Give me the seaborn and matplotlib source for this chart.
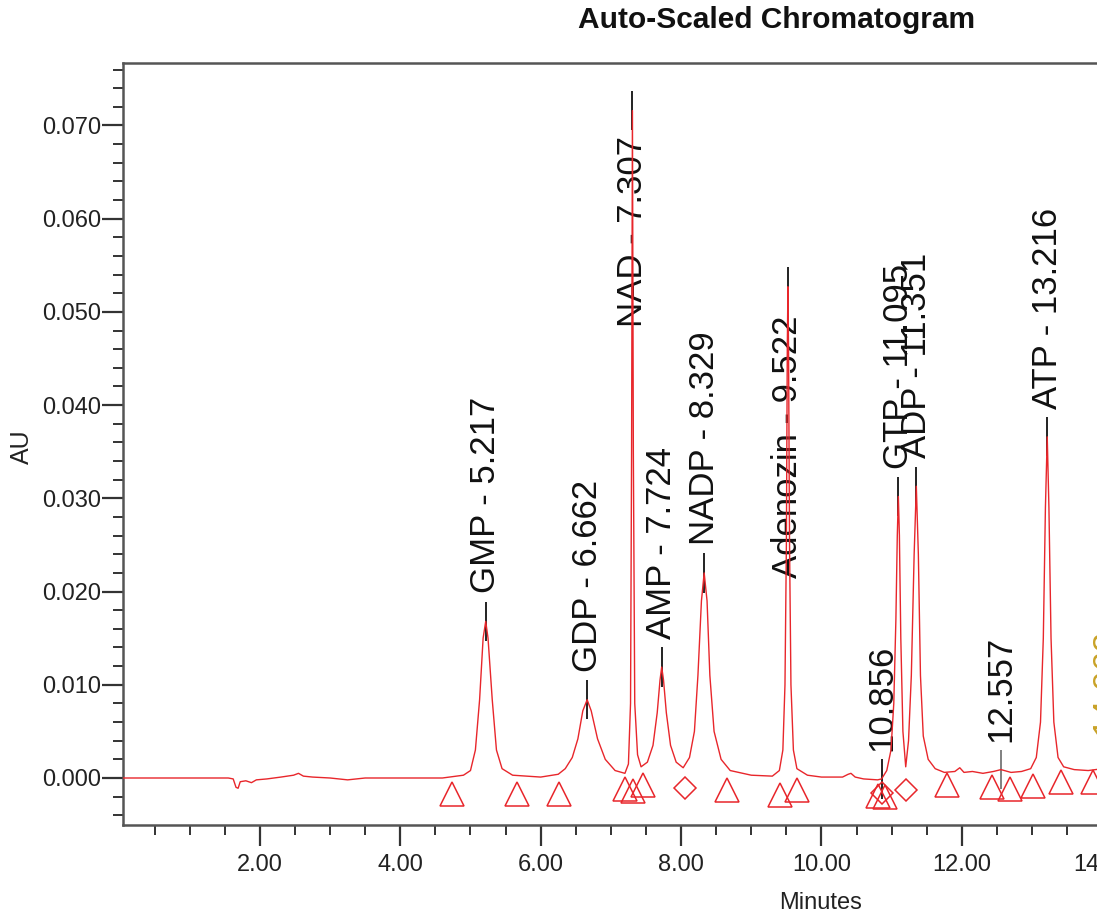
import matplotlib
matplotlib.use("Agg")
import matplotlib.pyplot as plt
from matplotlib import font_manager
from matplotlib.patches import Rectangle
from matplotlib.ticker import MultipleLocator, FormatStrFormatter
import seaborn as sns
import pandas as pd

# detector trace (minutes, AU)
trace_time = [0.05, 0.80, 1.55, 1.62, 1.66, 1.69, 1.72, 1.80, 1.88, 1.95, 2.10, 2.30, 2.48, 2.55, 2.62,
              2.75, 3.00, 3.25, 3.50, 4.00, 4.60, 4.90, 5.00, 5.07, 5.13, 5.18, 5.217, 5.25, 5.31,
              5.37, 5.45, 5.60, 6.00, 6.25, 6.35, 6.45, 6.53, 6.60, 6.662, 6.72, 6.81, 6.92, 7.06,
              7.20, 7.25, 7.28, 7.295, 7.307, 7.32, 7.34, 7.38, 7.43, 7.52, 7.60, 7.66, 7.70, 7.724,
              7.75, 7.79, 7.85, 7.93, 8.03, 8.12, 8.19, 8.24, 8.29, 8.329, 8.37, 8.41, 8.47, 8.57,
              8.70, 9.00, 9.30, 9.40, 9.45, 9.48, 9.50, 9.513, 9.522, 9.531, 9.545, 9.565, 9.60,
              9.65, 9.80, 10.00, 10.30, 10.38, 10.42, 10.48, 10.60, 10.80, 10.856, 10.93, 10.99,
              11.03, 11.06, 11.08, 11.095, 11.11, 11.13, 11.16, 11.20, 11.24, 11.28, 11.32, 11.351,
              11.38, 11.41, 11.45, 11.52, 11.62, 11.75, 11.90, 11.97, 12.03, 12.15, 12.30, 12.45,
              12.557, 12.70, 12.85, 12.98, 13.06, 13.12, 13.16, 13.19, 13.216, 13.24, 13.27, 13.31,
              13.37, 13.45, 13.60, 13.80, 14.11]
trace_au = [0.0000, 0.0000, 0.0000, -0.0001, -0.0010, -0.0011, -0.0004, -0.0003, -0.0005, -0.0002,
            -0.0001, 0.0001, 0.0003, 0.0005, 0.0002, 0.0001, 0.0000, -0.0002, 0.0000, 0.0000,
            0.0000, 0.0003, 0.0008, 0.0030, 0.0084, 0.0150, 0.0168, 0.0150, 0.0084, 0.0030,
            0.0010, 0.0003, 0.0001, 0.0004, 0.0010, 0.0022, 0.0042, 0.0072, 0.0084, 0.0072,
            0.0042, 0.0020, 0.0008, 0.0005, 0.0015, 0.0080, 0.0350, 0.0716, 0.0350, 0.0080,
            0.0025, 0.0012, 0.0017, 0.0035, 0.0070, 0.0105, 0.0119, 0.0105, 0.0070, 0.0035,
            0.0017, 0.0011, 0.0022, 0.0050, 0.0110, 0.0190, 0.0220, 0.0190, 0.0110, 0.0050,
            0.0020, 0.0008, 0.0003, 0.0002, 0.0008, 0.0030, 0.0100, 0.0250, 0.0460, 0.0527,
            0.0460, 0.0250, 0.0100, 0.0030, 0.0010, 0.0003, 0.0001, 0.0001, 0.0004, 0.0005,
            0.0001, -0.0001, -0.0002, -0.0001, 0.0008, 0.0030, 0.0080, 0.0170, 0.0260, 0.0302,
            0.0260, 0.0150, 0.0050, 0.0012, 0.0040, 0.0110, 0.0240, 0.0313, 0.0240, 0.0110,
            0.0045, 0.0020, 0.0010, 0.0006, 0.0007, 0.0011, 0.0006, 0.0007, 0.0005, 0.0007,
            0.0009, 0.0006, 0.0007, 0.0010, 0.0022, 0.0060, 0.0150, 0.0290, 0.0366, 0.0290,
            0.0150, 0.0060, 0.0022, 0.0012, 0.0009, 0.0008, 0.0011]

# labelled peaks
peak_names = ["GMP - 5.217", "GDP - 6.662", "NAD - 7.307", "AMP - 7.724", "NADP - 8.329",
              "Adenozin - 9.522", "10.856", "GTP - 11.095", "ADP - 11.351", "12.557", "ATP - 13.216"]
peak_time = [5.217, 6.662, 7.307, 7.724, 8.329, 9.522, 10.856, 11.095, 11.351, 12.557, 13.216]
peak_au = [0.0168, 0.0084, 0.0716, 0.0119, 0.0220, 0.0527, -0.0001, 0.0302, 0.0313, 0.0009, 0.0366]

# partly hidden label at the right edge
edge_name = "14.062"
edge_time = 14.05

# integration start/stop marks
tri_time = [4.73, 5.66, 6.26, 7.20, 7.31, 7.46, 8.65, 9.41, 9.65, 10.80, 10.90, 11.79, 12.43,
            12.68, 13.01, 13.41, 13.87]
tri_au = [-0.0017, -0.0017, -0.0017, -0.0012, -0.0014, -0.0008, -0.0013, -0.0018, -0.0013,
          -0.0019, -0.0020, -0.0008, -0.0010, -0.0012, -0.0009, -0.0004, -0.0004]
dia_time = [8.05, 10.86, 11.21]
dia_au = [-0.0011, -0.0016, -0.0013]

trace = pd.DataFrame({"Minutes": trace_time, "AU": trace_au})

sns.set_theme(style="ticks")
names = {f.name for f in font_manager.fontManager.ttflist}
if "Liberation Sans Narrow" in names:
    flat_font = ["Liberation Sans Narrow", "DejaVu Sans"]
    tick_size, title_size, xlab_size = 20, 26, 20
else:
    flat_font = ["Liberation Sans", "DejaVu Sans"]
    tick_size, title_size, xlab_size = 17, 21.5, 17
plt.rcParams["font.family"] = flat_font

fig = plt.figure(figsize=(11.1, 9.23), dpi=100)
ax = fig.add_axes([0.1108, 0.1062, 0.8892, 0.8255])

red = "#e8262b"
sns.lineplot(data=trace, x="Minutes", y="AU", sort=False, estimator=None,
             color=red, lw=1.0, ax=ax, zorder=3)

ax.plot(tri_time, tri_au, ls="none", marker="^", ms=17, mfc="none", mec=red, mew=1.1, zorder=4)
ax.plot(dia_time, dia_au, ls="none", marker="D", ms=11.5, mfc="none", mec=red, mew=1.1, zorder=4)

# peak labels: small tick through the apex, text above it
moved = {"NAD - 7.307": 0.0484, "Adenozin - 9.522": 0.0215}
for name, t, h in zip(peak_names, peak_time, peak_au):
    lc = "#808080" if name == "12.557" else "#222222"
    ax.vlines(t, h - 0.0021, h + 0.0021, color=lc, lw=1.4, zorder=2)
    base = moved.get(name, h + 0.003)
    ax.text(t, base, name, rotation=90, ha="center", va="bottom", fontsize=25,
            family=["Liberation Sans", "DejaVu Sans"], color="#111111", zorder=2)
ax.text(edge_time, 0.0046, edge_name, rotation=90, ha="center", va="bottom", fontsize=25,
        family=["Liberation Sans", "DejaVu Sans"], color="#c9a227", clip_on=False)

ax.set_xlim(0.05, 14.11)
ax.set_ylim(-0.00504, 0.0767)
ax.xaxis.set_major_locator(MultipleLocator(2))
ax.xaxis.set_minor_locator(MultipleLocator(0.5))
ax.yaxis.set_major_locator(MultipleLocator(0.01))
ax.yaxis.set_minor_locator(MultipleLocator(0.002))
ax.xaxis.set_major_formatter(FormatStrFormatter("%.2f"))
ax.yaxis.set_major_formatter(FormatStrFormatter("%.3f"))
ax.tick_params(axis="both", which="major", direction="out", length=15, width=1.6,
               color="#333333", labelsize=tick_size, labelcolor="#222222", pad=1)
ax.tick_params(axis="both", which="minor", direction="out", length=7, width=1.4, color="#333333")
ax.tick_params(axis="x", which="major", pad=6)

for side in ["left", "bottom", "top"]:
    ax.spines[side].set_color("#555555")
    ax.spines[side].set_linewidth(1.8)
ax.spines["right"].set_visible(False)

ax.set_xlabel("")
ax.set_ylabel("")
fig.text(0.7396, 0.0217, "Minutes", ha="center", va="center", fontsize=xlab_size, color="#222222")
fig.text(0.0198, 0.5157, "AU", ha="center", va="center", rotation=90, fontsize=18,
         family=["Liberation Sans", "DejaVu Sans"], color="#222222")
fig.text(0.700, 0.978, "Auto-Scaled Chromatogram", ha="center", va="center",
         fontsize=title_size, fontweight="bold", color="#111111")

# the screenshot is cut a little before its right edge
fig.patches.append(Rectangle((1097 / 1110, 0), 1 - 1097 / 1110, 1, transform=fig.transFigure,
                             facecolor="white", edgecolor="none", zorder=10))

fig.savefig("out.png", dpi=100)
